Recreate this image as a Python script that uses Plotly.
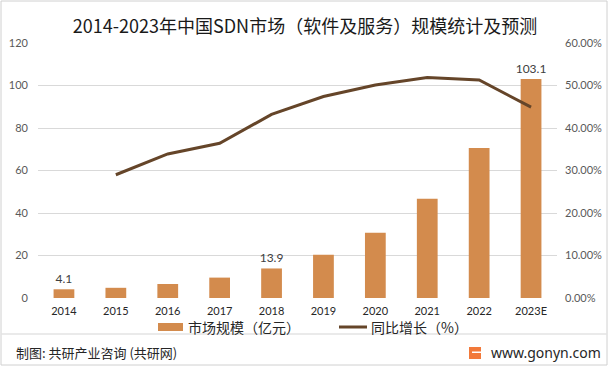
import plotly.graph_objects as go

years = ["2014", "2015", "2016", "2017", "2018", "2019", "2020", "2021", "2022", "2023E"]
market_size = [4.1, 4.8, 6.6, 9.6, 13.9, 20.4, 30.7, 46.7, 70.6, 103.1]
growth_pct = [None, 29.0, 33.9, 36.4, 43.2, 47.4, 50.1, 51.9, 51.3, 44.9]
labeled_years = ["2014", "2018", "2023E"]
left_ticks = [0, 20, 40, 60, 80, 100, 120]
right_ticks = [0, 10, 20, 30, 40, 50, 60]
bar_name = "市场规模（亿元）"
line_name = "同比增长（%）"

W, H = 610, 370
L, R, T, B = 38, 557, 43, 298

def px(x):
    return (x - L) / (R - L)

def py(y):
    return (B - y) / (B - T)

bar_color = "#D38B4D"
line_color = "#654529"
bar_text = [f"{v:g}" if y in labeled_years else "" for y, v in zip(years, market_size)]

fig = go.Figure()
fig.add_trace(go.Bar(
    x=years, y=market_size, name=bar_name,
    marker=dict(color=bar_color, line=dict(width=0)),
    width=0.4,
    text=bar_text, textposition="outside", cliponaxis=False, constraintext="none",
    textfont=dict(family="Lato, Noto Sans", size=12, color="#404040"),
))
fig.add_trace(go.Scatter(
    x=years, y=growth_pct, name=line_name, yaxis="y2",
    mode="lines", line=dict(color=line_color, width=3),
    connectgaps=False,
))

cjk = "Noto Sans CJK SC"
fig.update_layout(
    width=W, height=H,
    margin=dict(l=L, r=W - R, t=T, b=H - B, autoexpand=False),
    paper_bgcolor="white", plot_bgcolor="white",
    showlegend=False,
    title=dict(text="2014-2023年中国SDN市场（软件及服务）规模统计及预测",
               x=0.5, xanchor="center", y=1 - 27 / H, yanchor="middle",
               font=dict(family=cjk, size=18, color="#1a1a1a")),
    xaxis=dict(type="category", categoryorder="array", categoryarray=years,
               showgrid=False, showline=False, ticks="", ticklabelstandoff=5,
               tickfont=dict(family="Lato, Noto Sans", size=11, color="#262626")),
    yaxis=dict(range=[0, 120], tickvals=left_ticks, showgrid=True,
               gridcolor="#D9D9D9", gridwidth=1, zeroline=False,
               showline=False, ticks="", ticklabelstandoff=9,
               tickfont=dict(family="Lato, Noto Sans", size=11, color="#595959")),
    yaxis2=dict(range=[0, 60], tickvals=right_ticks,
                ticktext=[f"{v:.2f}%" for v in right_ticks],
                overlaying="y", side="right", showgrid=False, zeroline=False,
                showline=False, ticks="", ticklabelstandoff=7,
                tickfont=dict(family="Lato, Noto Sans", size=11, color="#595959")),
)

shapes = [
    # outer border
    dict(type="rect", xref="paper", yref="paper",
         x0=px(1), x1=px(607), y0=py(365), y1=py(1),
         line=dict(color="#D0D0D0", width=1), fillcolor="rgba(0,0,0,0)", layer="below"),
    # footer separator
    dict(type="line", xref="paper", yref="paper",
         x0=px(1), x1=px(607), y0=py(334), y1=py(334),
         line=dict(color="#E3E3E3", width=1.5)),
    # legend swatches
    dict(type="rect", xref="paper", yref="paper",
         x0=px(158), x1=px(183), y0=py(331), y1=py(323),
         line=dict(width=0), fillcolor=bar_color),
    dict(type="line", xref="paper", yref="paper",
         x0=px(339), x1=px(367), y0=py(327), y1=py(327),
         line=dict(color=line_color, width=3)),
    # logo
    dict(type="rect", xref="paper", yref="paper",
         x0=px(469), x1=px(481), y0=py(359), y1=py(347),
         line=dict(width=0), fillcolor="#F2793A"),
    dict(type="rect", xref="paper", yref="paper",
         x0=px(472), x1=px(481), y0=py(353), y1=py(351.5),
         line=dict(width=0), fillcolor="white"),
]
fig.update_layout(shapes=shapes)

fig.add_annotation(text=bar_name, xref="paper", yref="paper",
                   x=px(186), y=py(327), xanchor="left", yanchor="middle", showarrow=False,
                   font=dict(family=cjk, size=14, color="#262626"))
fig.add_annotation(text=line_name, xref="paper", yref="paper",
                   x=px(369), y=py(327), xanchor="left", yanchor="middle", showarrow=False,
                   font=dict(family=cjk, size=14, color="#262626"))
fig.add_annotation(text="制图: 共研产业咨询 (共研网)", xref="paper", yref="paper",
                   x=px(14), y=py(352), xanchor="left", yanchor="middle", showarrow=False,
                   font=dict(family=cjk, size=13, color="#262626"))
fig.add_annotation(text="www.gonyn.com", xref="paper", yref="paper",
                   x=px(489), y=py(352), xanchor="left", yanchor="middle", showarrow=False,
                   font=dict(family="Noto Sans, Lato", size=14, color="#262626"))

fig.write_html("out.html", config={"displayModeBar": False},
               post_script="document.body.style.margin='0';")
